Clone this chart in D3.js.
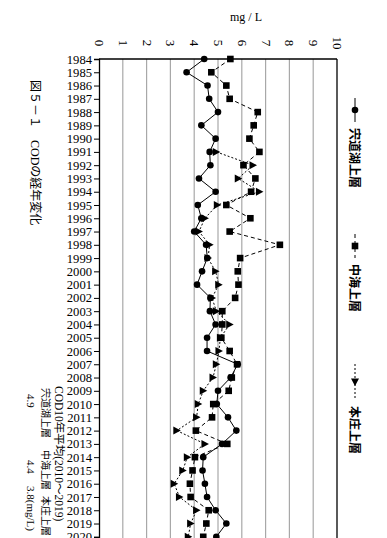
<!DOCTYPE html>
<html><head><meta charset="utf-8">
<script src="https://cdn.jsdelivr.net/npm/d3@7"></script>
<style>
html,body{margin:0;padding:0;background:#fff;}
svg{display:block;}
</style>
</head><body>
<svg id="chart" width="387" height="538"></svg>
<script>
const years = d3.range(1984, 2021);
const xTicks = [0,1,2,3,4,5,6,7,8,9,10];
const seriesNames = ["宍道湖上層", "中海上層", "本庄上層"];
// 宍道湖上層 (circles, solid)
const shinjiko = [4.42,3.68,4.56,4.63,5.0,4.3,4.9,4.65,4.68,4.2,4.9,4.15,4.3,4.0,4.5,4.55,4.33,4.12,4.68,4.66,4.9,4.54,4.54,5.83,5.53,5.0,4.95,5.42,5.77,5.17,4.38,4.35,4.45,4.54,4.9,5.35,4.93];
// 中海上層 (squares, dashed)
const nakaumi = [5.52,4.72,5.35,5.49,6.67,6.5,6.32,6.74,6.07,6.57,6.39,5.35,6.36,5.49,7.6,5.93,5.83,5.86,5.72,5.18,5.18,5.14,5.49,5.8,5.58,5.45,4.8,4.75,4.07,5.39,4.03,3.93,3.82,3.85,4.61,4.51,4.38];
// 本庄上層 (triangles, dotted) – no data before 1991
const honjo = [null,null,null,null,null,null,null,4.93,6.47,5.85,6.74,4.97,4.45,4.2,4.65,4.58,4.9,5.03,4.75,4.93,5.49,5.1,5.04,4.93,4.79,4.38,4.17,4.1,3.27,4.45,3.71,3.52,3.16,3.38,4.1,3.85,3.75];
const captionTitle = "図５－１　CODの経年変化";
const avgTitle = "COD10年平均(2010〜2019)";
const avgValues = ["4.9", "4.4", "3.8(mg/L)"];
const unitLabel = "mg / L";

const svg = d3.select("#chart");
const serif = "'Liberation Serif','Times New Roman',serif";
const jp = "'Liberation Serif','Noto Sans CJK JP',serif";

const x = d3.scaleLinear().domain([0,10]).range([99,337]);
const y = d3.scaleLinear().domain([1984,2020]).range([59,536.8]);

// gridlines
svg.append("g").selectAll("line").data(xTicks.filter(d=>d>0&&d<10)).join("line")
  .attr("x1",d=>x(d)).attr("x2",d=>x(d)).attr("y1",y(1984)).attr("y2",545)
  .attr("stroke","#a8a8a8").attr("stroke-width",1.2);

// frame: top and right
svg.append("line").attr("x1",x(0)).attr("x2",x(10)).attr("y1",y(1984)).attr("y2",y(1984)).attr("stroke","#000").attr("stroke-width",1.3);
svg.append("line").attr("x1",x(10)).attr("x2",x(10)).attr("y1",y(1984)).attr("y2",545).attr("stroke","#000").attr("stroke-width",1.3);

// left axis (years)
const yAxis = svg.append("g").attr("transform",`translate(${x(0)},0)`)
  .call(d3.axisLeft(y).tickValues(years).tickFormat(d3.format("d")).tickSize(5).tickPadding(2));
yAxis.select(".domain").attr("stroke","#000").attr("stroke-width",1.3);
yAxis.selectAll(".tick line").attr("stroke","#000");
yAxis.selectAll("text").attr("font-family",serif).attr("font-size","12.6px").attr("fill","#000");

// top axis (values), rotated labels
const xAxis = svg.append("g").attr("transform",`translate(0,${y(1984)})`)
  .call(d3.axisTop(x).tickValues(xTicks).tickSize(0).tickPadding(0));
xAxis.select(".domain").remove();
xAxis.selectAll(".tick text")
  .attr("font-family",serif).attr("font-size","13px").attr("fill","#000")
  .attr("text-anchor","middle").attr("dominant-baseline","central")
  .attr("y",null).attr("dy",null)
  .attr("transform","translate(0,-16) rotate(90)");

svg.append("text").attr("x",246).attr("y",21).attr("text-anchor","middle")
  .attr("font-family",serif).attr("font-size","12px").text(unitLabel);

// series
function drawSeries(vals, dash, marker){
  const pts = years.map((yr,i)=>({yr,v:vals[i]}));
  const line = d3.line().defined(d=>d.v!=null).x(d=>x(d.v)).y(d=>y(d.yr));
  svg.append("path").datum(pts).attr("d",line).attr("fill","none")
    .attr("stroke","#000").attr("stroke-width",1).attr("stroke-dasharray",dash);
  const g = svg.append("g");
  pts.filter(d=>d.v!=null).forEach(d=>marker(g, x(d.v), y(d.yr)));
}
const circ = (g,cx,cy)=>g.append("circle").attr("cx",cx).attr("cy",cy).attr("r",3.3).attr("fill","#000");
const sq = (g,cx,cy)=>g.append("rect").attr("x",cx-3.3).attr("y",cy-3.3).attr("width",6.6).attr("height",6.6).attr("fill","#000");
const tri = (g,cx,cy)=>g.append("path").attr("d",`M${cx-3.5},${cy-4}L${cx+4},${cy}L${cx-3.5},${cy+4}Z`).attr("fill","#000");

drawSeries(honjo, "2,2", tri);
drawSeries(nakaumi, "4,3", sq);
drawSeries(shinjiko, null, circ);

// legend (rotated)
const lx = 355;
const legend = [
  {name:seriesNames[0], y0:98, dash:null, m:circ},
  {name:seriesNames[1], y0:234, dash:"4,3", m:sq},
  {name:seriesNames[2], y0:364, dash:"2,2", m:tri}
];
legend.forEach((it,i)=>{
  const len = i===2?36:24;
  svg.append("line").attr("x1",lx).attr("x2",lx).attr("y1",it.y0).attr("y2",it.y0+len)
    .attr("stroke","#000").attr("stroke-width",1).attr("stroke-dasharray",it.dash);
  if(i===2){
    svg.append("path").attr("d",`M${lx-4},${it.y0+len/2-3.5}L${lx},${it.y0+len/2+4}L${lx+4},${it.y0+len/2-3.5}Z`).attr("fill","#000");
  } else it.m(svg, lx, it.y0+len/2);
  svg.append("text").attr("transform",`translate(${lx},${it.y0+len+6}) rotate(90)`)
    .attr("dominant-baseline","central").attr("font-family","'Noto Sans CJK JP',sans-serif")
    .attr("font-size","12px").attr("font-weight","bold").text(it.name);
});

// captions (rotated)
function vtext(tx,ty,str,size,font){
  return svg.append("text").attr("transform",`translate(${tx},${ty}) rotate(90)`)
    .attr("dominant-baseline","central").attr("font-family",font||jp)
    .attr("font-size",size).text(str);
}
vtext(35,80,captionTitle,"12px");
vtext(59,386,avgTitle,"11.5px");
vtext(45,388,seriesNames[0],"10px");
vtext(45,450,seriesNames[1],"10px");
vtext(45,496,seriesNames[2],"10px");
vtext(31,394,avgValues[0],"11px",serif);
vtext(31,460,avgValues[1],"11px",serif);
vtext(31,486,avgValues[2],"11px",serif);
</script>
</body></html>
